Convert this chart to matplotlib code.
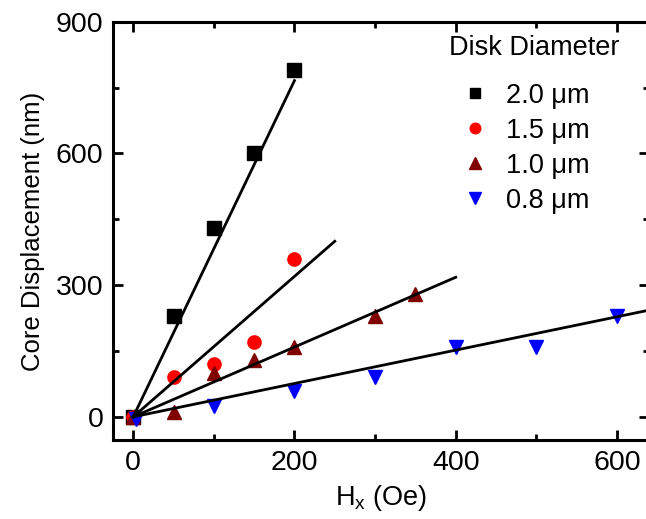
import numpy as np
import matplotlib.pyplot as plt
from matplotlib.ticker import MultipleLocator

plt.rcParams['font.family'] = ['Liberation Sans', 'DejaVu Sans']

# measured points (Hx in Oe, displacement in nm)
hx_20 = [0, 50, 100, 150, 200]
d_20 = [0, 230, 430, 600, 790]
hx_15 = [0, 50, 100, 150, 200]
d_15 = [0, 90, 120, 170, 360]
hx_10 = [0, 50, 100, 150, 200, 300, 350]
d_10 = [0, 12, 100, 130, 160, 230, 280]
hx_08 = [3, 100, 200, 300, 400, 500, 600]
d_08 = [-5, 25, 60, 90, 160, 160, 230]

# linear fits through origin: slope (nm/Oe) and x end of the drawn line
fit_slopes = [3.83, 1.6, 0.795, 0.38]
fit_ends = [200, 250, 400, 700]

labels = ['2.0 \u03bcm', '1.5 \u03bcm', '1.0 \u03bcm', '0.8 \u03bcm']

fig = plt.figure(figsize=(6.46, 5.19), dpi=100)
ax = fig.add_axes([0.175, 0.152, 0.83, 0.806])

ax.plot(hx_20, d_20, 's', color='black', ms=9.5, label=labels[0], zorder=3)
ax.plot(hx_15, d_15, 'o', color='red', ms=9.5, label=labels[1], zorder=3)
ax.plot(hx_10, d_10, '^', color='#800000', ms=10.5, label=labels[2], zorder=3)
ax.plot(hx_08, d_08, 'v', color='blue', ms=10.5, label=labels[3], zorder=3)

for s, e in zip(fit_slopes, fit_ends):
    xx = np.array([0, e])
    ax.plot(xx, s * xx, '-', color='black', lw=2.0, zorder=4)

ax.set_xlim(-25, 640)
ax.set_ylim(-53, 900)
ax.xaxis.set_major_locator(MultipleLocator(200))
ax.xaxis.set_minor_locator(MultipleLocator(100))
ax.yaxis.set_major_locator(MultipleLocator(300))
ax.yaxis.set_minor_locator(MultipleLocator(150))
ax.tick_params(which='both', direction='in', top=True, right=True,
               labelsize=20.5, width=2)
ax.tick_params(which='major', length=7, pad=7)
ax.tick_params(which='minor', length=4.5)
for sp in ax.spines.values():
    sp.set_linewidth(2.2)

ax.set_xlabel('H$_\\mathregular{x}$ (Oe)', fontsize=19.5, labelpad=5)
ax.set_ylabel('Core Displacement (nm)', fontsize=18.5, labelpad=8)

fig.text(534 / 646, 1 - 48 / 519, 'Disk Diameter', fontsize=19.5,
         ha='center', va='center')
leg = ax.legend(frameon=False, fontsize=19.5, loc='upper left',
                bbox_to_anchor=(444 / 646, 1 - 72 / 519),
                bbox_transform=fig.transFigure, borderaxespad=0,
                handletextpad=0.4, labelspacing=0.33, markerscale=0.8,
                handlelength=1.5)

fig.savefig('out.png', dpi=100)
